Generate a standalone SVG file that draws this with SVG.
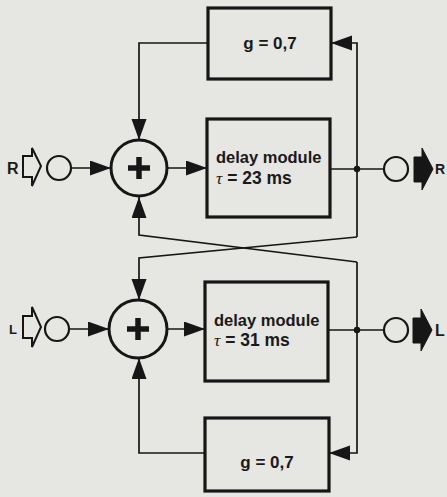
<svg xmlns="http://www.w3.org/2000/svg" width="447" height="497" viewBox="0 0 447 497">
<style>
.bg{fill:#e6e6e3}
.box{fill:none;stroke:#161616;stroke-width:3.2}
.ln{fill:none;stroke:#161616;stroke-width:1.7}
.sum{fill:none;stroke:#161616;stroke-width:3}
.plus{stroke:#161616;stroke-width:5.5}
.io{fill:none;stroke:#161616;stroke-width:2.2}
.spk{fill:none;stroke:#161616;stroke-width:2}
.spkf{fill:#161616;stroke:#161616;stroke-width:1}
.t{font-family:"Liberation Sans",Arial,sans-serif;font-weight:bold;fill:#1a1a1a}
.tau{font-family:"Liberation Serif","Times New Roman",serif;font-style:italic;font-weight:normal}
</style>
<defs>
<marker id="ah" markerUnits="userSpaceOnUse" markerWidth="22" markerHeight="16" refX="21" refY="7.5" orient="auto">
<path d="M0,0 L21,7.5 L0,15 Z" fill="#161616"/>
</marker>
</defs>
<rect class="bg" x="0" y="0" width="447" height="497"/>

<g id="connectors">
<path class="ln" d="M71,168 L111,168" marker-end="url(#ah)"/>
<path class="ln" d="M168,168 L207,168" marker-end="url(#ah)"/>
<path class="ln" d="M330,169 L384,169"/>
<path class="ln" d="M357,237 L357,43 L331,43" marker-end="url(#ah)"/>
<path class="ln" d="M208,43 L139,43 L139,140" marker-end="url(#ah)"/>
<path class="ln" d="M357,262 L139,235 L139,197" marker-end="url(#ah)"/>
<path class="ln" d="M357,237 L139,258 L139,300" marker-end="url(#ah)"/>
<path class="ln" d="M69,329 L109,329" marker-end="url(#ah)"/>
<path class="ln" d="M167,329 L205,329" marker-end="url(#ah)"/>
<path class="ln" d="M328,330 L384,330"/>
<path class="ln" d="M357,262 L357,453 L329,453" marker-end="url(#ah)"/>
<path class="ln" d="M205,453 L139,453 L139,358" marker-end="url(#ah)"/>
<circle cx="357" cy="169" r="3.2" fill="#161616"/>
<circle cx="357" cy="330" r="3.2" fill="#161616"/>
</g>

<g id="in-R">
<text class="t" x="7" y="174" font-size="16">R</text>
<polygon class="spk" points="23,156 32,156 32,148 41,166 32,186 32,177 23,177"/>
<circle class="io" cx="59" cy="168" r="12"/>
</g>
<g id="in-L">
<text class="t" x="9" y="334" font-size="13">L</text>
<polygon class="spk" points="23,316 32,316 32,307 41,327 32,347 32,338 23,338"/>
<circle class="io" cx="57" cy="329" r="12"/>
</g>

<g id="sum-R">
<circle class="sum" cx="139" cy="168" r="28"/>
<path class="plus" d="M128,168 H150 M139,157 V179"/>
</g>
<g id="sum-L">
<circle class="sum" cx="138" cy="329" r="29"/>
<path class="plus" d="M127,329 H149 M138,318 V340"/>
</g>

<g id="gain-top">
<rect class="box" x="208" y="8" width="123" height="71"/>
<text class="t" x="270" y="49" font-size="17" text-anchor="middle">g = 0,7</text>
</g>
<g id="delay-R">
<rect class="box" x="207" y="119" width="123" height="98"/>
<text class="t" x="216" y="163" font-size="16.5">delay module</text>
<text class="t" x="216" y="184" font-size="17.5"><tspan class="tau">τ</tspan> = 23 ms</text>
</g>
<g id="delay-L">
<rect class="box" x="205" y="282" width="123" height="99"/>
<text class="t" x="214" y="326" font-size="16.5">delay module</text>
<text class="t" x="214" y="346" font-size="17.5"><tspan class="tau">τ</tspan> = 31 ms</text>
</g>
<g id="gain-bottom">
<rect class="box" x="205" y="418" width="124" height="73"/>
<text class="t" x="267" y="468" font-size="17" text-anchor="middle">g = 0,7</text>
</g>

<g id="out-R">
<circle class="io" cx="396" cy="169" r="12"/>
<polygon class="spkf" points="414,157 422,157 422,148 433,169 422,190 422,182 414,182"/>
<text class="t" x="435" y="174" font-size="14">R</text>
</g>
<g id="out-L">
<circle class="io" cx="396" cy="330" r="12"/>
<polygon class="spkf" points="413,318 421,318 421,309 432,330 421,351 421,343 413,343"/>
<text class="t" x="435" y="336" font-size="16">L</text>
</g>
</svg>
